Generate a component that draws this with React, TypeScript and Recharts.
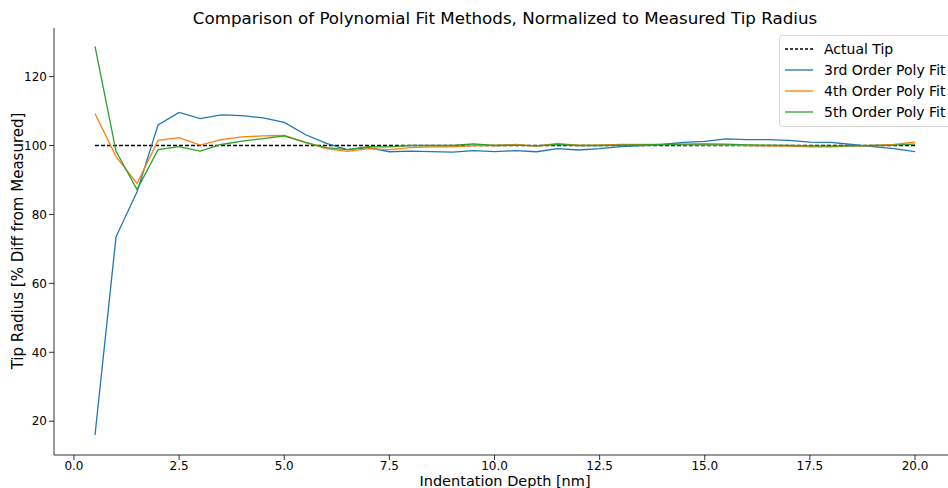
import { LineChart, Line, XAxis, YAxis } from 'recharts';

const depth = [
  0.5, 1, 1.5, 2, 2.5, 3, 3.5, 4, 4.5, 5, 5.5, 6, 6.5, 7, 7.5, 8, 8.5, 9, 9.5, 10,
  10.5, 11, 11.5, 12, 12.5, 13, 13.5, 14, 14.5, 15, 15.5, 16, 16.5, 17, 17.5, 18, 18.5, 19, 19.5, 20,
];
const thirdOrder = [
  16, 73.5, 86.6, 106, 109.6, 107.8, 108.9, 108.7, 108, 106.7, 103.2, 100.6, 98.8, 99.4, 98.2, 98.4, 98.2, 98.1, 98.5, 98.2,
  98.5, 98.2, 99.1, 98.7, 99.1, 99.7, 100, 100.3, 100.9, 101.2, 101.9, 101.7, 101.7, 101.5, 101, 100.9, 100.3, 99.7, 99.1, 98.2,
];
const fourthOrder = [
  109.3, 96.8, 89, 101.5, 102.3, 100.1, 101.7, 102.5, 102.8, 102.9, 100.9, 99.1, 98.3, 99.1, 98.8, 99.4, 99.6, 99.6, 100, 100,
  100.3, 99.8, 100.6, 100, 100.1, 100.3, 100.3, 100.3, 100.2, 100.1, 100.2, 100, 99.9, 99.8, 99.6, 99.6, 99.8, 100, 100.3, 101,
];
const fifthOrder = [
  128.8, 98.3, 87.2, 98.8, 99.7, 98.4, 100.3, 101.3, 102, 102.8, 100.9, 99.4, 98.8, 99.7, 99.6, 100, 100, 100, 100.5, 100,
  100.1, 99.9, 100.3, 100, 100, 100.1, 100.2, 100.3, 100.4, 100.5, 100.4, 100.2, 100.1, 100, 99.9, 99.8, 99.9, 100, 100.1, 100.4,
];
const actualTip = [
  { depth: 0.5, value: 100 },
  { depth: 20, value: 100 },
];
const xTicks = [0, 2.5, 5, 7.5, 10, 12.5, 15, 17.5, 20];
const yTicks = [20, 40, 60, 80, 100, 120];

const series = [
  { key: 'third', name: '3rd Order Poly Fit', color: '#1f77b4' },
  { key: 'fourth', name: '4th Order Poly Fit', color: '#ff7f0e' },
  { key: 'fifth', name: '5th Order Poly Fit', color: '#2ca02c' },
];

const font = '"DejaVu Sans", sans-serif';

export default function App() {
  const data = depth.map((d, i) => ({
    depth: d,
    third: thirdOrder[i],
    fourth: fourthOrder[i],
    fifth: fifthOrder[i],
  }));

  const tickStyle = { fill: '#000', fontSize: 12, fontFamily: font };

  return (
    <div style={{ position: 'fixed', left: 0, top: 0, width: 948, height: 488, overflow: 'hidden', background: '#fff' }}>
      <div
        style={{
          position: 'absolute',
          left: 54,
          width: 902,
          top: 8,
          textAlign: 'center',
          fontFamily: font,
          fontSize: 16.7,
          color: '#000',
          whiteSpace: 'nowrap',
        }}
      >
        Comparison of Polynomial Fit Methods, Normalized to Measured Tip Radius
      </div>
      <LineChart width={957} height={488} data={data} margin={{ top: 28, right: 1, bottom: 0, left: 0 }}>
        <XAxis
          xAxisId="top"
          orientation="top"
          dataKey="depth"
          type="number"
          domain={[-0.475, 20.975]}
          height={0}
          tick={false}
          tickLine={false}
          axisLine={{ stroke: '#000', strokeWidth: 0.8 }}
        />
        <XAxis
          dataKey="depth"
          type="number"
          domain={[-0.475, 20.975]}
          ticks={xTicks}
          tickFormatter={(v: number) => v.toFixed(1)}
          tick={{ ...tickStyle, dy: -1 }}
          tickSize={5}
          tickLine={{ stroke: '#000', strokeWidth: 0.8 }}
          axisLine={{ stroke: '#000', strokeWidth: 0.8 }}
          height={33}
          label={{
            content: () => (
              <text
                x={505}
                y={481}
                textAnchor="middle"
                dominantBaseline="central"
                style={{ fill: '#000', fontSize: 14.5, fontFamily: font }}
              >
                Indentation Depth [nm]
              </text>
            ),
          }}
        />
        <YAxis
          type="number"
          domain={[10.2, 134.1]}
          ticks={yTicks}
          allowDataOverflow
          width={54}
          tick={tickStyle}
          tickSize={5}
          tickLine={{ stroke: '#000', strokeWidth: 0.8 }}
          axisLine={{ stroke: '#000', strokeWidth: 0.8 }}
          label={{
            content: () => (
              <text
                x={18}
                y={241}
                transform="rotate(-90 18 241)"
                textAnchor="middle"
                dominantBaseline="central"
                style={{ fill: '#000', fontSize: 15, fontFamily: font }}
              >
                Tip Radius [% Diff from Measured]
              </text>
            ),
          }}
        />
        <Line
          data={actualTip}
          dataKey="value"
          name="Actual Tip"
          stroke="#000"
          strokeWidth={1.3}
          strokeDasharray="4 2"
          dot={false}
          isAnimationActive={false}
        />
        {series.map((s) => (
          <Line
            key={s.key}
            dataKey={s.key}
            name={s.name}
            stroke={s.color}
            strokeWidth={1.3}
            dot={false}
            type="linear"
            isAnimationActive={false}
          />
        ))}
      </LineChart>
      <div
        style={{
          position: 'absolute',
          left: 779,
          top: 35,
          width: 180,
          height: 92,
          border: '1px solid #d6d6d6',
          borderRadius: 3,
          background: 'rgba(255,255,255,0.8)',
          fontFamily: font,
          fontSize: 14,
          color: '#000',
          boxSizing: 'border-box',
        }}
      >
        {[{ name: 'Actual Tip', color: '#000', dashed: true }, ...series.map((s) => ({ name: s.name, color: s.color, dashed: false }))].map(
          (item, i) => (
            <div key={item.name} style={{ position: 'absolute', left: 4, top: 2 + i * 21, height: 21, display: 'flex', alignItems: 'center', whiteSpace: 'nowrap' }}>
              <svg width={30} height={10} style={{ marginRight: 10 }}>
                <line
                  x1={1}
                  x2={29}
                  y1={5}
                  y2={5}
                  stroke={item.color}
                  strokeWidth={1.3}
                  strokeDasharray={item.dashed ? '3 2' : undefined}
                />
              </svg>
              <span>{item.name}</span>
            </div>
          ),
        )}
      </div>
    </div>
  );
}
